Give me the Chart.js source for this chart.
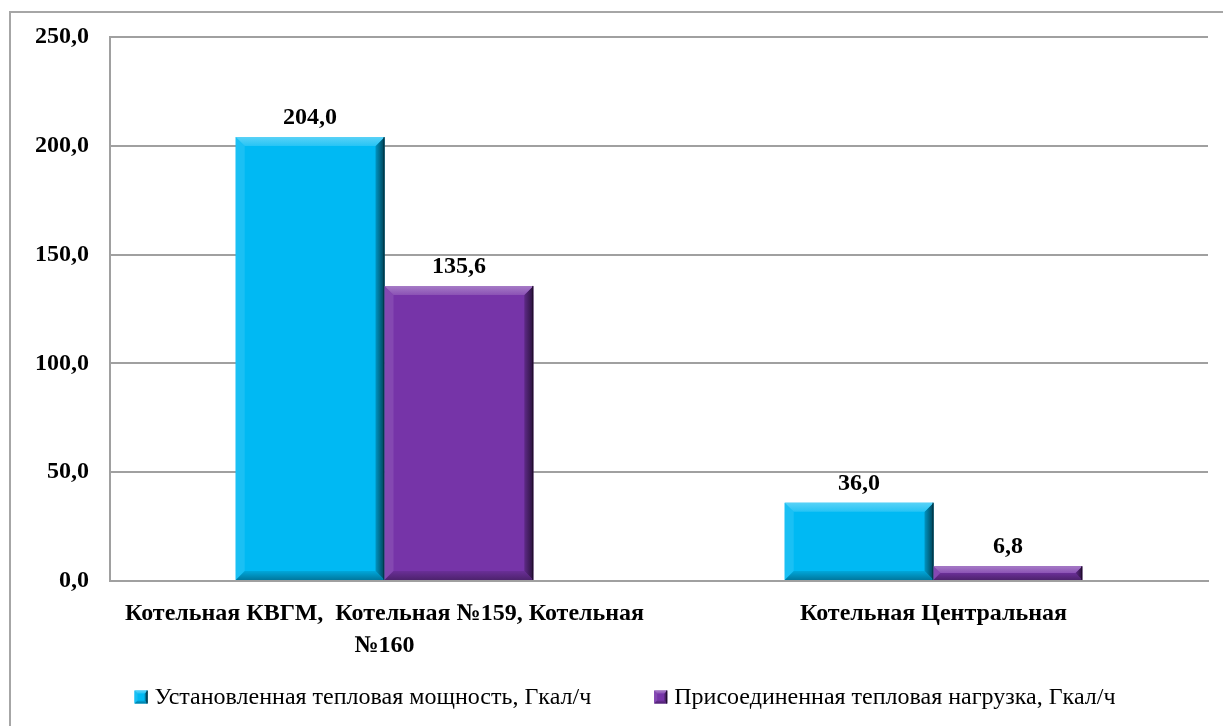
<!DOCTYPE html>
<html>
<head>
<meta charset="utf-8">
<script src="https://cdn.jsdelivr.net/npm/chart.js@4/dist/chart.umd.min.js"></script>
<style>
  html, body { margin: 0; padding: 0; background: #ffffff; }
  #wrap { width: 1223px; height: 726px; position: relative; }
</style>
</head>
<body>
<div id="wrap"><canvas id="chart" width="1223" height="726"></canvas></div>
<script>
// Boiler houses and their heat figures, Gcal/h
const categories = [
  ["Котельная КВГМ,  Котельная №159, Котельная", "№160"],
  "Котельная Центральная"
];
const installedCapacity = [204.0, 36.0];
const connectedLoad = [135.6, 6.8];
const seriesNames = [
  "Установленная тепловая мощность, Гкал/ч",
  "Присоединенная тепловая нагрузка, Гкал/ч"
];
const seriesColors = ["#00B9F3", "#7634A8"];
const yMin = 0, yMax = 250, yStep = 50;

const serif = "'Liberation Serif', 'Times New Roman', serif";
const fmt = v => Number(v).toFixed(1).replace('.', ',');

function shade(hex, amt) {
  const n = parseInt(hex.slice(1), 16);
  let r = (n >> 16) & 255, g = (n >> 8) & 255, b = n & 255;
  const f = c => amt >= 0 ? Math.round(c + (255 - c) * amt) : Math.round(c * (1 + amt));
  return `rgb(${f(r)},${f(g)},${f(b)})`;
}

function poly(ctx, pts, fill) {
  ctx.beginPath();
  ctx.moveTo(pts[0][0], pts[0][1]);
  for (let i = 1; i < pts.length; i++) ctx.lineTo(pts[i][0], pts[i][1]);
  ctx.closePath();
  ctx.fillStyle = fill;
  ctx.fill();
}

// Bevelled face drawn over a rectangle
function bevel(ctx, l, t, r, b, color, size) {
  const s = Math.min(size, (b - t) / 2, (r - l) / 2);
  // left edge
  poly(ctx, [[l, t], [l + s, t + s], [l + s, b - s], [l, b]], shade(color, 0.1));
  // bottom edge
  const gb = ctx.createLinearGradient(0, b - s, 0, b);
  gb.addColorStop(0, shade(color, -0.1));
  gb.addColorStop(1, shade(color, -0.35));
  poly(ctx, [[l, b], [r, b], [r - s, b - s], [l + s, b - s]], gb);
  // right edge
  const gr = ctx.createLinearGradient(r - s, 0, r, 0);
  gr.addColorStop(0, shade(color, -0.2));
  gr.addColorStop(1, shade(color, -0.65));
  poly(ctx, [[r, t], [r, b], [r - s, b - s], [r - s, t + s]], gr);
  // top edge
  const gt = ctx.createLinearGradient(0, t, 0, t + s);
  gt.addColorStop(0, shade(color, 0.35));
  gt.addColorStop(1, shade(color, 0.15));
  poly(ctx, [[l, t], [r, t], [r - s, t + s], [l + s, t + s]], gt);
  ctx.strokeStyle = shade(color, -0.75);
  ctx.lineWidth = 1;
  ctx.beginPath();
  ctx.moveTo(r - 0.5, t);
  ctx.lineTo(r - 0.5, b);
  ctx.stroke();
}

const bevelPlugin = {
  id: 'bevelBars',
  afterDatasetsDraw(chart) {
    const ctx = chart.ctx;
    ctx.save();
    chart.data.datasets.forEach((ds, i) => {
      chart.getDatasetMeta(i).data.forEach(bar => {
        const p = bar.getProps(['x', 'y', 'base', 'width'], true);
        bevel(ctx, p.x - p.width / 2, p.y, p.x + p.width / 2, p.base, ds.backgroundColor, 9);
      });
    });
    ctx.restore();
  }
};

const valueLabelPlugin = {
  id: 'valueLabels',
  afterDatasetsDraw(chart) {
    const ctx = chart.ctx;
    ctx.save();
    ctx.font = `bold 24px ${serif}`;
    ctx.fillStyle = '#000';
    ctx.textAlign = 'center';
    ctx.textBaseline = 'alphabetic';
    chart.data.datasets.forEach((ds, i) => {
      chart.getDatasetMeta(i).data.forEach((bar, j) => {
        ctx.fillText(fmt(ds.data[j]), bar.x, bar.y - 13);
      });
    });
    ctx.restore();
  }
};

const frameLegendPlugin = {
  id: 'frameLegend',
  beforeDraw(chart) {
    const ctx = chart.ctx;
    ctx.save();
    ctx.fillStyle = '#fff';
    ctx.fillRect(0, 0, chart.width, chart.height);
    ctx.restore();
  },
  afterDraw(chart) {
    const ctx = chart.ctx;
    ctx.save();
    // outer frame
    ctx.strokeStyle = '#a6a6a6';
    ctx.lineWidth = 2;
    ctx.strokeRect(10, 12, chart.width + 20, chart.height + 20);
    // legend
    ctx.font = `24px ${serif}`;
    ctx.textBaseline = 'middle';
    ctx.textAlign = 'left';
    const box = 13, gapBox = 7, gapItem = 63;
    const widths = chart.data.datasets.map(ds => box + gapBox + ctx.measureText(ds.label).width);
    const total = widths.reduce((a, b) => a + b, 0) + gapItem * (widths.length - 1);
    let x = 625 - total / 2;
    const cy = 697;
    chart.data.datasets.forEach((ds, i) => {
      ctx.fillStyle = ds.backgroundColor;
      ctx.fillRect(x, cy - box / 2, box, box);
      bevel(ctx, x, cy - box / 2, x + box, cy + box / 2, ds.backgroundColor, 3);
      ctx.fillStyle = '#000';
      ctx.fillText(ds.label, x + box + gapBox, cy + 1);
      x += widths[i] + gapItem;
    });
    ctx.restore();
  }
};

new Chart(document.getElementById('chart'), {
  type: 'bar',
  data: {
    labels: categories,
    datasets: [
      { label: seriesNames[0], data: installedCapacity, backgroundColor: seriesColors[0] },
      { label: seriesNames[1], data: connectedLoad, backgroundColor: seriesColors[1] }
    ]
  },
  options: {
    responsive: false,
    animation: false,
    devicePixelRatio: 1,
    layout: { padding: { left: 0, top: 37, right: 15, bottom: 45 } },
    datasets: { bar: { categoryPercentage: 0.542, barPercentage: 1.0, borderWidth: 0 } },
    plugins: {
      legend: { display: false },
      tooltip: { enabled: false }
    },
    scales: {
      x: {
        grid: { display: false, drawTicks: false },
        border: { display: true, color: '#a0a0a0', width: 2 },
        ticks: {
          padding: 17,
          color: '#000',
          maxRotation: 0,
          autoSkip: false,
          font: { family: serif, size: 24, weight: 'bold', lineHeight: 1.32 }
        },
        afterFit(scale) { scale.height = 100; }
      },
      y: {
        min: yMin,
        max: yMax,
        ticks: {
          stepSize: yStep,
          padding: 21,
          color: '#000',
          font: { family: serif, size: 24, weight: 'bold' },
          callback: v => fmt(v)
        },
        grid: { color: '#a0a0a0', lineWidth: 2, drawTicks: false },
        border: { display: true, color: '#a0a0a0', width: 2 },
        afterFit(scale) { scale.width = 110; }
      }
    }
  },
  plugins: [frameLegendPlugin, bevelPlugin, valueLabelPlugin]
});
</script>
</body>
</html>
